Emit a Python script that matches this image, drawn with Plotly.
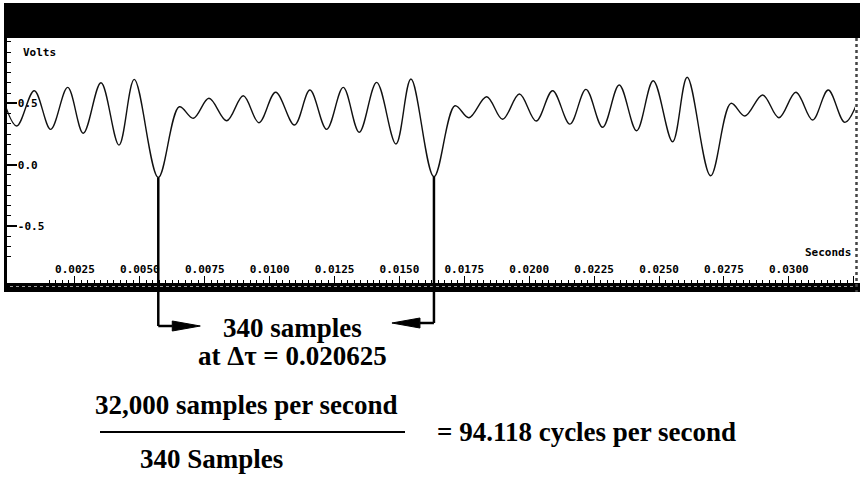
import plotly.graph_objects as go

# ---------------- data ----------------
# extrema of the waveform: time in seconds, amplitude in volts
time_s = [-0.00035, 0.000254, 0.000932, 0.001564, 0.002219, 0.002820, 0.003502, 0.004195,
          0.004784, 0.005709, 0.006518, 0.007057, 0.007662, 0.008344, 0.008983, 0.009588,
          0.010231, 0.010957, 0.011552, 0.012196, 0.012835, 0.013451, 0.014122, 0.014865,
          0.015443, 0.016329, 0.017138, 0.017677, 0.018359, 0.018975, 0.019623, 0.020266,
          0.020901, 0.021568, 0.022185, 0.022828, 0.023467, 0.024137, 0.024777, 0.025524,
          0.026086, 0.026988, 0.027770, 0.028309, 0.028991, 0.029619, 0.030274, 0.030917,
          0.031518, 0.032161, 0.032820]
volts = [0.590, 0.315, 0.603, 0.288, 0.630, 0.256, 0.668, 0.160,
         0.695, -0.103, 0.472, 0.378, 0.541, 0.358, 0.562, 0.342,
         0.590, 0.323, 0.608, 0.288, 0.630, 0.264, 0.671, 0.169,
         0.698, -0.098, 0.480, 0.383, 0.554, 0.370, 0.576, 0.356,
         0.603, 0.331, 0.614, 0.305, 0.649, 0.277, 0.684, 0.187,
         0.712, -0.090, 0.500, 0.397, 0.568, 0.383, 0.590, 0.364,
         0.608, 0.345, 0.608]

x_tick_vals = [0.0025, 0.0050, 0.0075, 0.0100, 0.0125, 0.0150, 0.0175,
               0.0200, 0.0225, 0.0250, 0.0275, 0.0300, 0.0325]
x_tick_text = ["0.0025", "0.0050", "0.0075", "0.0100", "0.0125", "0.0150", "0.0175",
               "0.0200", "0.0225", "0.0250", "0.0275", "0.0300", "0.0325"]
y_tick_vals = [-0.5, 0.0, 0.5]
y_tick_text = ["-0.5", "0.0", "0.5"]

label_samples = "340 samples"
label_delta = "at Δτ = 0.020625"
label_num = "32,000 samples per second"
label_den = "340 Samples"
label_result = "= 94.118 cycles per second"

# ---------------- geometry ----------------
W, H = 860, 477
ML, MR, MT, MB = 7, 5, 38, 194
PW, PH = W - ML - MR, H - MT - MB
XR = [-0.000119, 0.03255]
YR = [-0.963, 1.032]


def pxp(xpix):
    return (xpix - ML) / PW


def pyp(ypix):
    return (H - MB - ypix) / PH


def xd2p(t):
    return (t - XR[0]) / (XR[1] - XR[0])


def yd2p(v):
    return (v - YR[0]) / (YR[1] - YR[0])


mono = dict(family="DejaVu Sans Mono", size=11, color="black", weight="bold")
serif = dict(family="Liberation Serif", size=27, color="black", weight="bold")

fig = go.Figure()
fig.add_trace(go.Scatter(
    x=time_s, y=volts, mode="lines",
    line=dict(color="#111111", width=1.4, shape="spline", smoothing=1.0),
    hoverinfo="skip", showlegend=False,
))

shapes = []
# header bar
shapes.append(dict(type="rect", xref="paper", yref="paper", x0=pxp(4), x1=pxp(860),
                   y0=1, y1=pyp(3), fillcolor="black", line=dict(width=0), layer="above"))
# bottom band
shapes.append(dict(type="rect", xref="paper", yref="paper", x0=pxp(4), x1=pxp(860),
                   y0=0, y1=pyp(292), fillcolor="black", line=dict(width=0), layer="above"))
shapes.append(dict(type="line", xref="paper", yref="paper", x0=pxp(10), x1=pxp(855),
                   y0=pyp(286.5), y1=pyp(286.5), line=dict(color="#9a9a9a", width=1, dash="dot"),
                   layer="above"))
# right border
shapes.append(dict(type="line", xref="paper", yref="paper", x0=pxp(856.5), x1=pxp(856.5),
                   y0=pyp(38), y1=pyp(292), line=dict(color="#444444", width=2.5, dash="dot"),
                   layer="above"))

# connectors from the two deep troughs
deep = [(t, v) for t, v in zip(time_s, volts) if v < 0][:2]
ends = [326, 323]
dirs = [1, -1]
for (t, v), yend, d in zip(deep, ends, dirs):
    xp = xd2p(t)
    ye = pyp(yend)
    tip = xp + d * 42 / PW
    base = tip - d * 28 / PW
    hh = 5 / PH
    shapes.append(dict(type="line", xref="paper", yref="paper", x0=xp, x1=xp,
                       y0=yd2p(v), y1=ye, line=dict(color="black", width=2.5), layer="above"))
    shapes.append(dict(type="line", xref="paper", yref="paper", x0=xp, x1=base,
                       y0=ye, y1=ye, line=dict(color="black", width=2.5), layer="above"))
    shapes.append(dict(type="path", xref="paper", yref="paper",
                       path=f"M{tip},{ye} L{base},{ye + hh} L{base},{ye - hh} Z",
                       fillcolor="black", line=dict(color="black", width=1), layer="above"))

# fraction bar
shapes.append(dict(type="line", xref="paper", yref="paper", x0=pxp(100), x1=pxp(405),
                   y0=pyp(432), y1=pyp(432), line=dict(color="black", width=2)))

annotations = [
    dict(text="Volts", x=pxp(21), y=pyp(53), xanchor="left", yanchor="middle", font=mono),
    dict(text="Seconds", x=pxp(853), y=pyp(252), xanchor="right", yanchor="middle", font=mono),
    dict(text=label_samples, x=pxp(292), y=pyp(328), xanchor="center", yanchor="middle", font=serif),
    dict(text=label_delta, x=pxp(292), y=pyp(356), xanchor="center", yanchor="middle", font=serif),
    dict(text=label_num, x=pxp(400), y=pyp(405), xanchor="right", yanchor="middle", font=serif),
    dict(text=label_result, x=pxp(435), y=pyp(432), xanchor="left", yanchor="middle", font=serif),
    dict(text=label_den, x=pxp(138), y=pyp(459), xanchor="left", yanchor="middle", font=serif),
]
for a in annotations:
    a.update(xref="paper", yref="paper", showarrow=False)

fig.update_layout(
    width=W, height=H,
    margin=dict(l=ML, r=MR, t=MT, b=MB, pad=0),
    paper_bgcolor="white", plot_bgcolor="white",
    showlegend=False, hovermode=False,
    shapes=shapes, annotations=annotations,
    xaxis=dict(range=XR, showgrid=False, zeroline=False, showline=True, linecolor="black",
               linewidth=2, ticks="inside", ticklen=7, tickwidth=1.2, tickcolor="black",
               tickmode="array", tickvals=x_tick_vals, ticktext=x_tick_text,
               ticklabelposition="inside", tickfont=mono,
               minor=dict(tickmode="linear", tick0=0, dtick=0.00025, ticks="inside",
                          ticklen=3, tickcolor="black", tickwidth=1, showgrid=False)),
    yaxis=dict(range=YR, showgrid=False, zeroline=False, showline=True, linecolor="black",
               linewidth=3, ticks="inside", ticklen=10, tickwidth=1.5, tickcolor="black",
               tickmode="array", tickvals=y_tick_vals, ticktext=y_tick_text,
               ticklabelposition="inside", tickfont=mono,
               minor=dict(tickmode="linear", tick0=0, dtick=0.5 / 6, ticks="inside",
                          ticklen=4, tickcolor="black", tickwidth=1.2, showgrid=False)),
)

fig.write_html("out.html")
